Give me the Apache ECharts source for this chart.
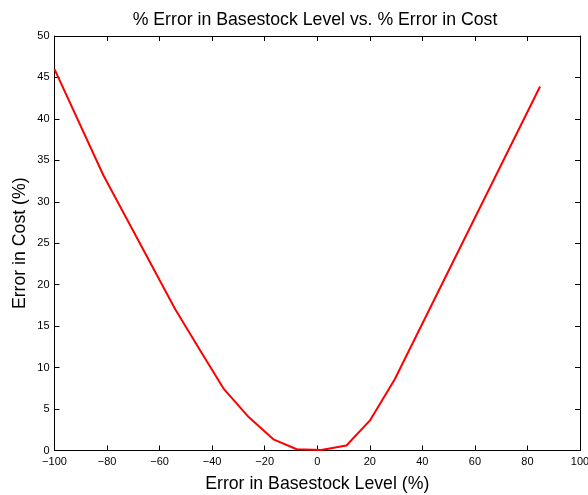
<!DOCTYPE html>
<html>
<head>
<meta charset="utf-8">
<script src="https://cdn.jsdelivr.net/npm/echarts@6/dist/echarts.min.js"></script>
<style>
  html, body { margin: 0; padding: 0; background: #fff; }
  #chart { width: 588px; height: 495px; }
</style>
</head>
<body>
<div id="chart"></div>
<script>
// error in basestock level (%) vs error in cost (%)
const basestockErr = [-100, -81.4, -54, -44.6, -35.5, -26, -16.7, -7.8, 1.5, 11.1, 20, 29.5, 84.8];
const costErr = [46.0, 33.2, 17.0, 12.1, 7.4, 4.0, 1.35, 0.15, 0.05, 0.6, 3.6, 8.6, 43.9];

const xTicks = { min: -100, max: 100, interval: 20 };
const yTicks = { min: 0, max: 50, interval: 5 };

const font = 'Liberation Sans, Arial, Helvetica, sans-serif';
const minus = v => String(v).replace('-', '\u2212');

const points = basestockErr.map((x, i) => [x, costErr[i]]);

const boxAxis = {
    axisLine: { show: true, onZero: false, lineStyle: { color: '#000', width: 1 } },
    axisTick: { show: true, inside: true, length: 5, lineStyle: { color: '#000' } },
    splitLine: { show: false }
};

const option = {
    animation: false,
    backgroundColor: '#fff',
    title: {
        text: '% Error in Basestock Level vs. % Error in Cost',
        left: 310,
        top: 6,
        textAlign: 'center',
        textStyle: { fontFamily: font, fontSize: 17.7, fontWeight: 'normal', color: '#000' }
    },
    grid: { left: 54.5, right: 8, top: 36, bottom: 44.5, outerBoundsMode: 'none', containLabel: false },
    xAxis: [
        Object.assign({
            type: 'value',
            position: 'bottom',
            min: xTicks.min, max: xTicks.max, interval: xTicks.interval,
            name: 'Error in Basestock Level (%)',
            nameLocation: 'middle',
            nameGap: 25,
            nameTextStyle: { fontFamily: font, fontSize: 17.7, color: '#000' },
            axisLabel: { fontFamily: font, fontSize: 11, color: '#000', margin: 6, formatter: minus }
        }, boxAxis),
        Object.assign({
            type: 'value',
            position: 'top',
            min: xTicks.min, max: xTicks.max, interval: xTicks.interval,
            axisLabel: { show: false }
        }, boxAxis)
    ],
    yAxis: [
        Object.assign({
            type: 'value',
            position: 'left',
            min: yTicks.min, max: yTicks.max, interval: yTicks.interval,
            name: 'Error in Cost (%)',
            nameLocation: 'middle',
            nameGap: 25,
            nameMoveOverlap: false,
            nameTextStyle: { fontFamily: font, fontSize: 17.7, color: '#000' },
            axisLabel: { fontFamily: font, fontSize: 11, color: '#000', margin: 5 }
        }, boxAxis),
        Object.assign({
            type: 'value',
            position: 'right',
            min: yTicks.min, max: yTicks.max, interval: yTicks.interval,
            axisLabel: { show: false }
        }, boxAxis)
    ],
    series: [
        {
            type: 'line',
            data: points,
            showSymbol: false,
            symbol: 'none',
            lineStyle: { color: '#ff0000', width: 2 },
            xAxisIndex: 0,
            yAxisIndex: 0
        }
    ]
};

const chart = echarts.init(document.getElementById('chart'));
chart.setOption(option);
window.addEventListener('resize', function () {
    chart.resize();
});
</script>
</body>
</html>
